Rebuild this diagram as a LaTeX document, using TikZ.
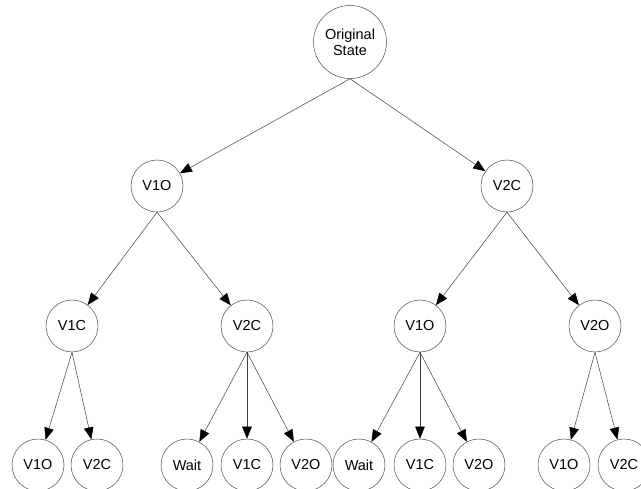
\documentclass[tikz,border=0pt]{standalone}
\usepackage{fontspec}
\setmainfont{Liberation Sans}
\usepackage{tikz}
\usetikzlibrary{arrows.meta, positioning}
\tikzset{%
    % States of the search tree
    state/.style = {draw=black!70, line width=0.5pt, circle, inner sep=0pt,
    minimum size=52pt, font=\fontsize{14.5}{16}\selectfont},
    root/.style  = {state, minimum size=73pt, align=center},
    % Moves between states
    move/.style  = {draw=black!75, line width=0.5pt,
    -{Triangle[length=12pt,width=9.5pt,fill=black,color=black]}}
}
\begin{document}
\begin{tikzpicture}[x=1pt, y=-1pt]
	\useasboundingbox (0,0) rectangle (641,489);
	% root
	\node[root] (S) at (350,42) {Original\\State};
	% first level
	\node[state] (A) at (157,186) {V1O};
	\node[state] (B) at (507,186) {V2C};
	% second level
	\node[state] (AA) at (72,326) {V1C};
	\node[state] (AB) at (247,326) {V2C};
	\node[state] (BA) at (420,326) {V1O};
	\node[state] (BB) at (595,326) {V2O};
	% third level
	\node[state] (AAA) at (38,465) {V1O};
	\node[state] (AAB) at (97,465) {V2C};
	\node[state] (ABA) at (187,465) {Wait};
	\node[state] (ABB) at (247,465) {V1C};
	\node[state] (ABC) at (306,465) {V2O};
	\node[state] (BAA) at (359,465) {Wait};
	\node[state] (BAB) at (420,465) {V1C};
	\node[state] (BAC) at (479,465) {V2O};
	\node[state] (BBA) at (564,465) {V1O};
	\node[state] (BBB) at (624,465) {V2C};

	\draw[move] (S.south) -- (A);
	\draw[move] (S.south) -- (B);
	\draw[move] (A.south) -- (AA);
	\draw[move] (A.south) -- (AB);
	\draw[move] (B.south) -- (BA);
	\draw[move] (B.south) -- (BB);
	\draw[move] (AA.south) -- (AAA);
	\draw[move] (AA.south) -- (AAB);
	\draw[move] (AB.south) -- (ABA);
	\draw[move] (AB.south) -- (ABB);
	\draw[move] (AB.south) -- (ABC);
	\draw[move] (BA.south) -- (BAA);
	\draw[move] (BA.south) -- (BAB);
	\draw[move] (BA.south) -- (BAC);
	\draw[move] (BB.south) -- (BBA);
	\draw[move] (BB.south) -- (BBB);
\end{tikzpicture}
\end{document}
